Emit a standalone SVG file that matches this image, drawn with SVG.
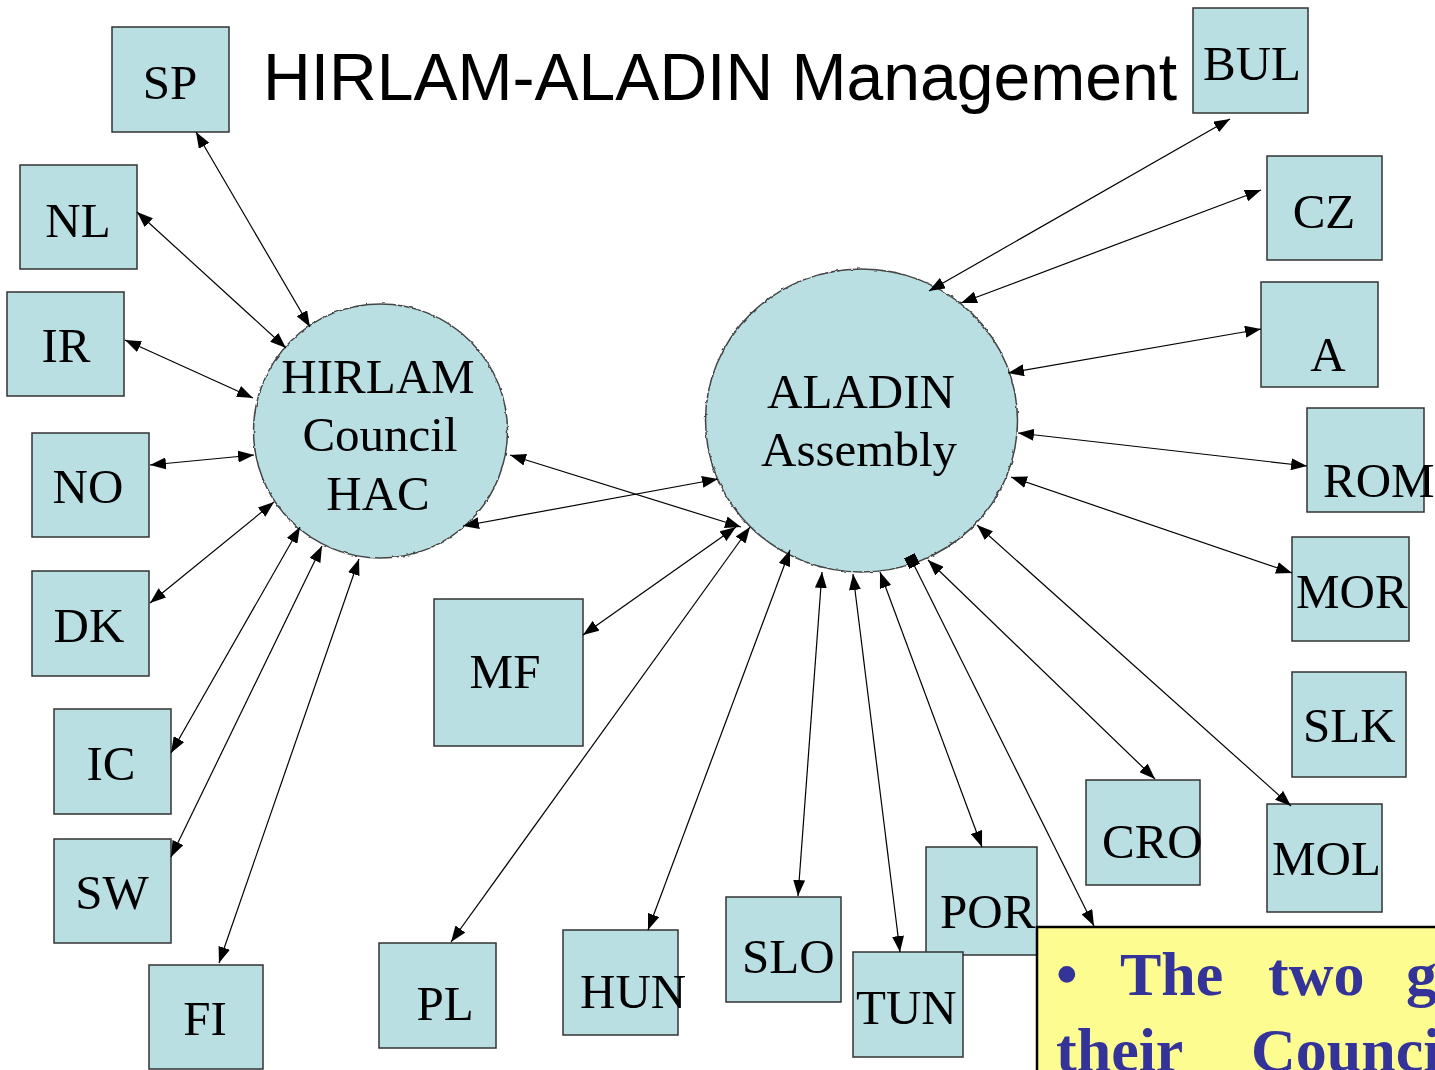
<svg xmlns="http://www.w3.org/2000/svg" width="1435" height="1070" viewBox="0 0 1435 1070">
<style>
.box{fill:#B9DFE3;stroke:#333;stroke-width:1.5}
.circ{fill:#B9DFE3;stroke:#444;stroke-width:1.5}
.lbl{font-family:"Liberation Serif","Times New Roman",serif;font-size:49px;fill:#000}
.mid{text-anchor:middle}
.title{font-family:"Liberation Sans",Arial,sans-serif;font-size:66px;fill:#000}
.note{font-family:"Liberation Serif","Times New Roman",serif;font-size:62px;font-weight:bold;fill:#333399}
.con line{stroke:#000;stroke-width:1.2;marker-start:url(#ah);marker-end:url(#ah)}
</style>
<defs>
<marker id="ah" viewBox="0 0 16 12" refX="16" refY="6" markerWidth="16" markerHeight="12" markerUnits="userSpaceOnUse" orient="auto-start-reverse">
<path d="M0,0 L16,6 L0,12 z" fill="#000"/>
</marker>
<marker id="sq" viewBox="0 0 12 12" refX="6" refY="6" markerWidth="12" markerHeight="12" markerUnits="userSpaceOnUse" orient="auto">
<rect x="0" y="0" width="12" height="12" fill="#000"/>
</marker>
<filter id="wob" x="-5%" y="-5%" width="110%" height="110%">
<feTurbulence type="fractalNoise" baseFrequency="0.2" numOctaves="1" seed="3"/>
<feDisplacementMap in="SourceGraphic" scale="3" xChannelSelector="R" yChannelSelector="G"/>
</filter>
</defs>
<rect width="1435" height="1070" fill="#fff"/>
<text class="title" x="263" y="100" textLength="914" lengthAdjust="spacingAndGlyphs">HIRLAM-ALADIN Management</text>

<g id="HAC">
<ellipse class="circ" cx="380.5" cy="431" rx="127" ry="127" filter="url(#wob)"/>
<text class="lbl mid" x="378" y="393">HIRLAM</text>
<text class="lbl mid" x="380" y="451">Council</text>
<text class="lbl mid" x="378" y="510">HAC</text>
</g>
<g id="ALADIN">
<ellipse class="circ" cx="861.5" cy="420.5" rx="156" ry="151.5" filter="url(#wob)"/>
<text class="lbl mid" x="861" y="408">ALADIN</text>
<text class="lbl mid" x="859" y="466">Assembly</text>
</g>

<g id="SP"><rect class="box" x="112" y="27" width="117" height="105"/><text class="lbl mid" x="170" y="99">SP</text></g>
<g id="NL"><rect class="box" x="20" y="165" width="117" height="104"/><text class="lbl mid" x="78" y="237">NL</text></g>
<g id="IR"><rect class="box" x="7" y="292" width="117" height="104"/><text class="lbl mid" x="66" y="362">IR</text></g>
<g id="NO"><rect class="box" x="32" y="433" width="117" height="104"/><text class="lbl mid" x="88" y="503">NO</text></g>
<g id="DK"><rect class="box" x="32" y="571" width="117" height="105"/><text class="lbl mid" x="89" y="642">DK</text></g>
<g id="IC"><rect class="box" x="54" y="709" width="117" height="105"/><text class="lbl mid" x="111" y="780">IC</text></g>
<g id="SW"><rect class="box" x="54" y="839" width="117" height="104"/><text class="lbl mid" x="112" y="909">SW</text></g>
<g id="FI"><rect class="box" x="149" y="965" width="114" height="104"/><text class="lbl mid" x="205" y="1035">FI</text></g>
<g id="MF"><rect class="box" x="434" y="599" width="149" height="147"/><text class="lbl mid" x="505" y="688">MF</text></g>
<g id="PL"><rect class="box" x="379" y="943" width="117" height="105"/><text class="lbl mid" x="445" y="1020">PL</text></g>
<g id="HUN"><rect class="box" x="563" y="930" width="115" height="105"/><text class="lbl" x="580" y="1008">HUN</text></g>
<g id="SLO"><rect class="box" x="726" y="897" width="115" height="105"/><text class="lbl" x="742" y="973">SLO</text></g>
<g id="POR"><rect class="box" x="926" y="847" width="111" height="108"/><text class="lbl" x="940" y="928">POR</text></g>
<g id="TUN"><rect class="box" x="853" y="952" width="110" height="105"/><text class="lbl" x="856" y="1024">TUN</text></g>
<g id="CRO"><rect class="box" x="1086" y="780" width="114" height="105"/><text class="lbl" x="1102" y="858">CRO</text></g>
<g id="MOL"><rect class="box" x="1267" y="804" width="115" height="108"/><text class="lbl" x="1272" y="875">MOL</text></g>
<g id="SLK"><rect class="box" x="1292" y="672" width="114" height="105"/><text class="lbl" x="1303" y="742">SLK</text></g>
<g id="MOR"><rect class="box" x="1292" y="537" width="117" height="104"/><text class="lbl" x="1296" y="608">MOR</text></g>
<g id="ROM"><rect class="box" x="1307" y="408" width="117" height="104"/><text class="lbl" x="1323" y="497">ROM</text></g>
<g id="A"><rect class="box" x="1261" y="282" width="117" height="105"/><text class="lbl mid" x="1328" y="371">A</text></g>
<g id="CZ"><rect class="box" x="1267" y="156" width="115" height="104"/><text class="lbl mid" x="1324" y="228">CZ</text></g>
<g id="BUL"><rect class="box" x="1193" y="8" width="115" height="105"/><text class="lbl" x="1203" y="80">BUL</text></g>

<g id="note">
<rect x="1037" y="927" width="420" height="200" fill="#FCFC90" stroke="#000" stroke-width="2.5"/>
<text class="note" x="1056" y="995">•</text>
<text class="note" x="1120" y="995">The</text>
<text class="note" x="1268" y="995">two</text>
<text class="note" x="1406" y="995">g</text>
<text class="note" x="1056" y="1071">their</text>
<text class="note" x="1251" y="1071">Counci</text>
</g>

<g id="connectors" class="con">
<line x1="310" y1="327" x2="196" y2="132"/>
<line x1="286" y1="348" x2="137" y2="212"/>
<line x1="253" y1="398" x2="125" y2="340"/>
<line x1="254" y1="455" x2="150" y2="465"/>
<line x1="274" y1="502" x2="150" y2="603"/>
<line x1="300" y1="527" x2="171" y2="753"/>
<line x1="322" y1="546" x2="171" y2="857"/>
<line x1="359" y1="559" x2="219" y2="963"/>
<line x1="463" y1="526" x2="718" y2="479"/>
<line x1="510" y1="455" x2="741" y2="527"/>
<line x1="736" y1="527" x2="583" y2="635"/>
<line x1="750" y1="527" x2="451" y2="942"/>
<line x1="790" y1="550" x2="648" y2="930"/>
<line x1="822" y1="572" x2="798" y2="896"/>
<line x1="853" y1="574" x2="900" y2="952"/>
<line x1="880" y1="572" x2="982" y2="847"/>
<line x1="912" y1="561" x2="1094" y2="926" style="marker-start:url(#sq)"/>
<line x1="928" y1="560" x2="1155" y2="779"/>
<line x1="977" y1="525" x2="1291" y2="806"/>
<line x1="1011" y1="477" x2="1292" y2="573"/>
<line x1="1018" y1="433" x2="1307" y2="466"/>
<line x1="1008" y1="373" x2="1261" y2="329"/>
<line x1="961" y1="303" x2="1261" y2="190"/>
<line x1="929" y1="291" x2="1230" y2="119"/>
</g>
</svg>
